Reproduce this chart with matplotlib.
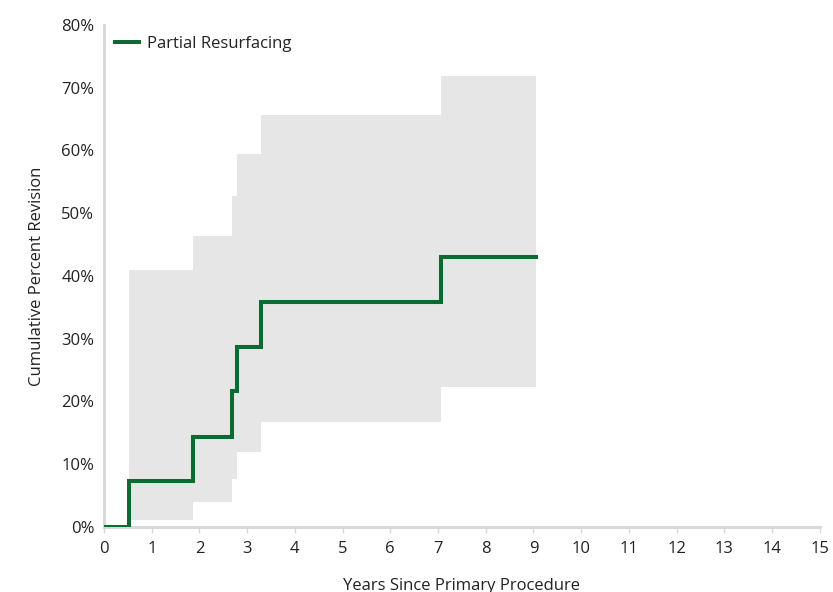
import matplotlib
matplotlib.use("Agg")
import matplotlib.pyplot as plt
from matplotlib.ticker import FuncFormatter

# Data (years, cumulative percent revision)
years = [0.0, 0.52, 1.86, 2.68, 2.79, 3.29, 7.06, 9.05]
revision = [0.0, 7.3, 14.4, 21.6, 28.7, 35.8, 43.1, 43.1]
upper_ci = [None, 40.9, 46.3, 52.8, 59.5, 65.7, 71.8, 71.8]
lower_ci = [None, 1.1, 4.0, 7.6, 11.9, 16.8, 22.3, 22.3]
series_name = "Partial Resurfacing"
x_ticks = list(range(0, 16))
y_ticks = [0, 10, 20, 30, 40, 50, 60, 70, 80]

plt.rcParams['font.family'] = ['Open Sans', 'DejaVu Sans']

fig = plt.figure(figsize=(8.33, 5.92), dpi=100)
ax = fig.add_axes([0.1249, 0.1098, 0.8591, 0.848])

ci_x = years[1:]
ax.fill_between(ci_x, lower_ci[1:], upper_ci[1:], step='post', color='#e6e6e6', linewidth=0, zorder=1)
ax.step(years, revision, where='post', color='#0b6b33', linewidth=2.9, zorder=3,
        label=series_name, solid_joinstyle='miter')

ax.set_xlim(0, 15)
ax.set_ylim(0, 80)
ax.set_xticks(x_ticks)
ax.set_yticks(y_ticks)
ax.yaxis.set_major_formatter(FuncFormatter(lambda v, p: f"{int(v)}%"))

for s in ['top', 'right']:
    ax.spines[s].set_visible(False)
for s in ['left', 'bottom']:
    ax.spines[s].set_color('#d9d9d9')
    ax.spines[s].set_linewidth(2.2)

fs = 12
ax.tick_params(axis='x', direction='out', length=4, width=1, color='#d9d9d9',
               labelsize=fs, labelcolor='#222222', pad=6)
ax.tick_params(axis='y', length=0, labelsize=fs, labelcolor='#222222', pad=7)

ax.set_xlabel("Years Since Primary Procedure", fontsize=fs, color='#222222', labelpad=15)
ax.set_ylabel("Cumulative Percent Revision", fontsize=fs, color='#222222', labelpad=12)

leg = ax.legend(loc='upper left', bbox_to_anchor=(0.0, 1.0), frameon=False,
                fontsize=fs, handlelength=1.45, handletextpad=0.5, borderaxespad=0.25)
for t in leg.get_texts():
    t.set_color('#222222')

fig.savefig("out.png", dpi=100)
